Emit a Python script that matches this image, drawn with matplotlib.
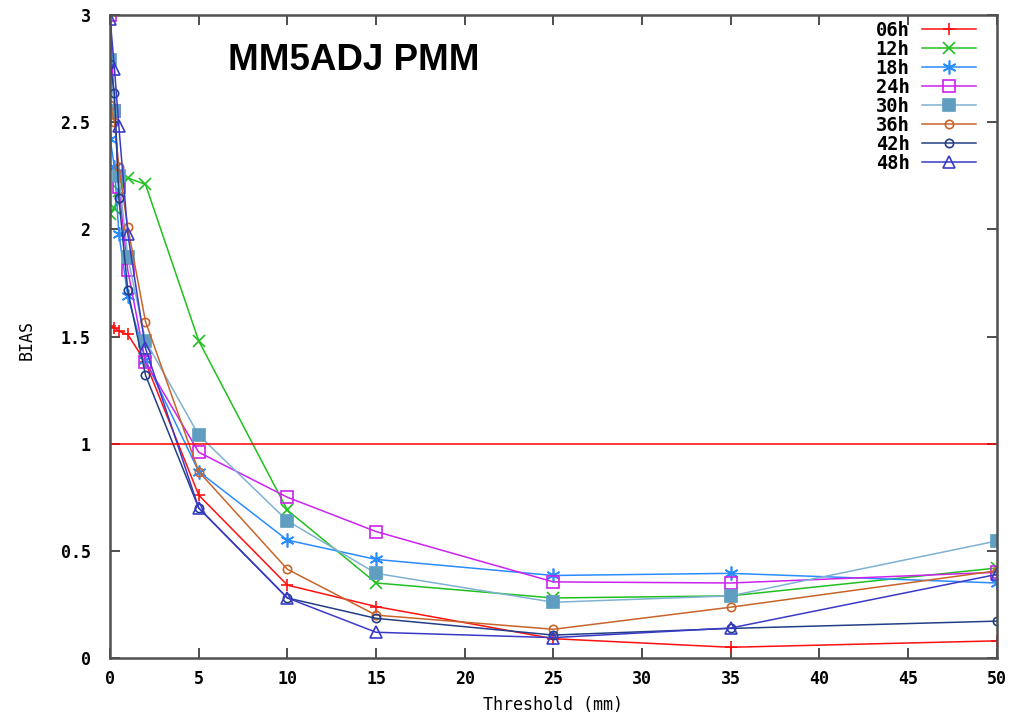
import matplotlib
matplotlib.use("Agg")
import matplotlib.pyplot as plt

# precipitation thresholds (mm) and frequency bias per forecast hour
thresholds = [0.01, 0.25, 0.5, 1, 2, 5, 10, 15, 25, 35, 50]

bias_06h = [1.55, 1.54, 1.525, 1.51, 1.38, 0.76, 0.34, 0.24, 0.09, 0.05, 0.08]
bias_12h = [2.07, 2.10, 2.18, 2.24, 2.21, 1.48, 0.69, 0.35, 0.28, 0.29, 0.42]
bias_18h = [2.42, 2.29, 1.98, 1.69, 1.39, 0.87, 0.55, 0.46, 0.385, 0.395, 0.35]
bias_24h = [3.0, 2.55, 2.2, 1.81, 1.38, 0.96, 0.75, 0.59, 0.355, 0.35, 0.40]
bias_30h = [2.79, 2.55, 2.25, 1.87, 1.48, 1.04, 0.64, 0.395, 0.26, 0.29, 0.546]
bias_36h = [2.58, 2.50, 2.29, 2.01, 1.57, 0.87, 0.414, 0.20, 0.134, 0.237, 0.407]
bias_42h = [2.77, 2.635, 2.145, 1.717, 1.32, 0.70, 0.28, 0.185, 0.107, 0.138, 0.172]
bias_48h = [2.98, 2.75, 2.48, 1.98, 1.445, 0.70, 0.28, 0.12, 0.095, 0.14, 0.39]

labels = ['06h', '12h', '18h', '24h', '30h', '36h', '42h', '48h']
series = [bias_06h, bias_12h, bias_18h, bias_24h, bias_30h, bias_36h, bias_42h, bias_48h]

asterisk = (6, 2, 0)
styles = [
    dict(color='#ff1010', marker='+', ms=9, mfc='none'),
    dict(color='#20c020', marker='x', ms=8, mfc='none'),
    dict(color='#2a8cff', marker=asterisk, ms=10, mfc='none'),
    dict(color='#cc22ee', marker='s', ms=8, mfc='none'),
    dict(color='#7fb2d2', marker='s', ms=8, mfc='#5f9ec0', mec='#5f9ec0'),
    dict(color='#c8642a', marker='o', ms=6, mfc='none'),
    dict(color='#233f86', marker='o', ms=6, mfc='none'),
    dict(color='#3a3ac8', marker='^', ms=8, mfc='none'),
]

mono = 'DejaVu Sans Mono'

fig = plt.figure(figsize=(10.33, 7.17), dpi=100)
ax = fig.add_axes([0.1065, 0.0823, 0.8585, 0.8967])

for lab, vals, st in zip(labels, series, styles):
    ax.plot(thresholds, vals, lw=1.1, mew=1.2, label=lab, **st)

# perfect-bias reference line
ax.axhline(1.0, color='#ff0000', lw=1.1)

ax.set_xlim(0, 50)
ax.set_ylim(0, 3)
ax.set_xticks(range(0, 51, 5))
ax.set_yticks([0, 0.5, 1, 1.5, 2, 2.5, 3])
ax.set_yticklabels(['0', '0.5', '1', '1.5', '2', '2.5', '3'])
ax.tick_params(direction='in', length=7, width=1.3, color='#404040',
               top=True, right=True, labelsize=12)
ax.tick_params(axis='y', pad=14)
ax.tick_params(axis='x', pad=9)
for lab in ax.get_xticklabels() + ax.get_yticklabels():
    lab.set_fontfamily(mono)
    lab.set_fontweight('bold')
for sp in ax.spines.values():
    sp.set_color('#505050')
    sp.set_linewidth(1.8)

fig.text(0.535, 0.0167, 'Threshold (mm)', fontfamily=mono, fontsize=12,
         ha='center', va='center')
fig.text(0.026, 0.526, 'BIAS', fontfamily=mono, fontsize=12,
         rotation=90, ha='center', va='center')

fig.text(0.2207, 0.9156, 'MM5ADJ PMM', fontfamily='Liberation Sans',
         fontweight='bold', fontsize=26.5, va='center', ha='left')

leg = ax.legend(loc='upper right', bbox_to_anchor=(0.985, 1.003), borderaxespad=0,
                frameon=False, markerfirst=False, handlelength=2.9,
                handletextpad=0.65, labelspacing=0.0,
                prop={'family': mono, 'size': 13.5, 'weight': 'bold'})

fig.savefig('out.png', dpi=100)
